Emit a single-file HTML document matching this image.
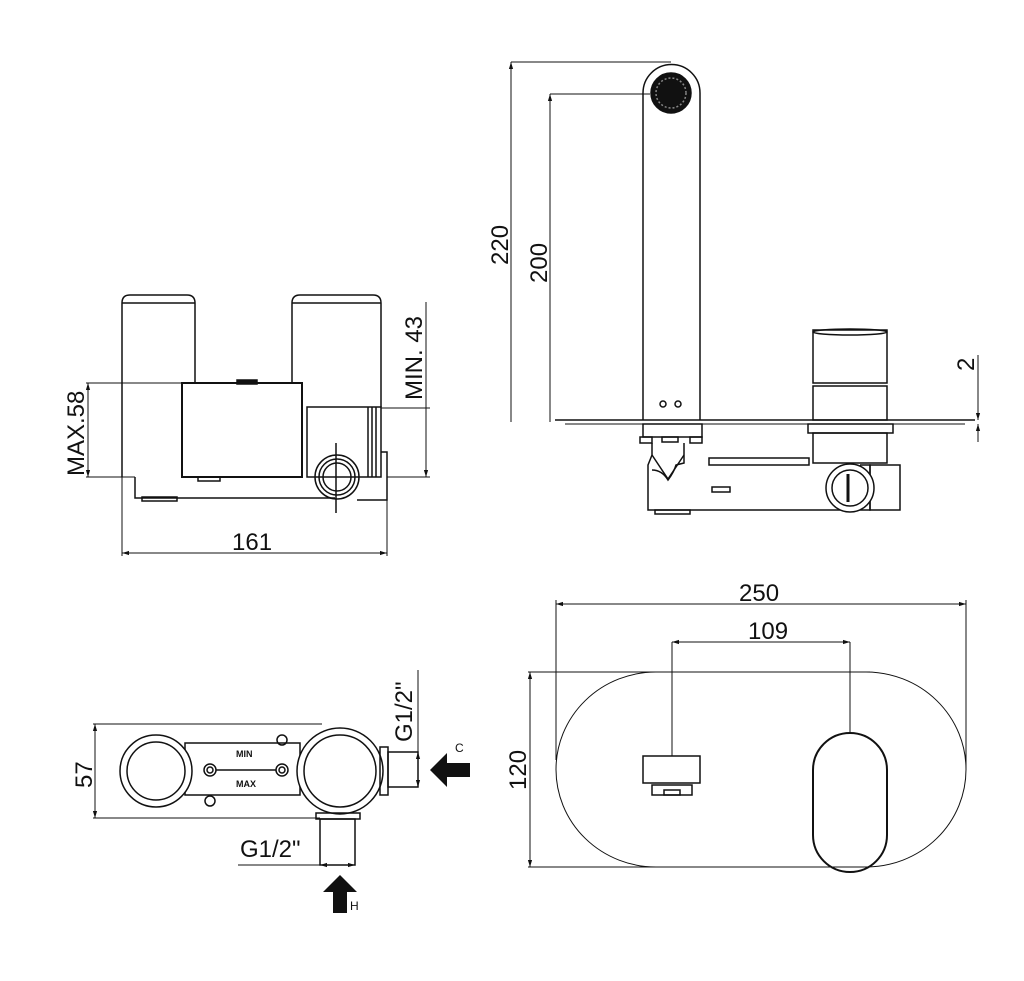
<!DOCTYPE html>
<html><head><style>body{margin:0;background:#fff}svg{display:block}text{font-family:"Liberation Sans",sans-serif;fill:#111}</style></head>
<body>
<svg width="1024" height="981" viewBox="0 0 1024 981" fill="none" stroke="#111" stroke-width="1.5">
<defs><marker id="a" viewBox="0 0 10 10" refX="10" refY="5" markerWidth="7" markerHeight="7" orient="auto-start-reverse"><path d="M0,2L10,5L0,8z" fill="#111" stroke="none"/></marker></defs>
<!-- TOP LEFT -->
<path d="M122,477V303q0-8 8-8h57q8,0 8,8V383"/>
<line x1="122" y1="303" x2="195" y2="303"/>
<path d="M292,383V303q0-8 8-8h73q8,0 8,8V407"/>
<line x1="292" y1="303" x2="381" y2="303"/>
<rect x="182" y="383" width="120" height="94" stroke-width="2"/>
<rect x="237" y="380" width="20" height="4" fill="#111"/>
<rect x="307" y="407" width="74" height="70"/>
<line x1="368" y1="407" x2="368" y2="477"/><line x1="372" y1="407" x2="372" y2="477"/><line x1="376" y1="407" x2="376" y2="477"/>
<path d="M381,452h6v48h-30"/>
<path d="M135,477v21h200"/>
<rect x="142" y="497" width="35" height="4"/>
<rect x="198" y="477" width="22" height="4"/>
<circle cx="337" cy="477" r="22"/><circle cx="337" cy="477" r="18"/><circle cx="337" cy="477" r="14"/>
<line x1="336" y1="443" x2="336" y2="513"/>
<line x1="86" y1="383" x2="182" y2="383" stroke-width="1"/><line x1="86" y1="477" x2="135" y2="477" stroke-width="1"/>
<line x1="88" y1="383" x2="88" y2="477" marker-start="url(#a)" marker-end="url(#a)" stroke-width="1"/>
<text font-size="24" transform="translate(84,476) rotate(-90)" stroke="none">MAX.58</text>
<line x1="381" y1="408" x2="430" y2="408" stroke-width="1"/><line x1="387" y1="477" x2="430" y2="477" stroke-width="1"/>
<line x1="426" y1="302" x2="426" y2="477" marker-end="url(#a)" stroke-width="1"/>
<text font-size="24" transform="translate(422,400) rotate(-90)" stroke="none">MIN. 43</text>
<line x1="122" y1="477" x2="122" y2="556" stroke-width="1"/><line x1="387" y1="500" x2="387" y2="556" stroke-width="1"/>
<line x1="122" y1="553" x2="387" y2="553" marker-start="url(#a)" marker-end="url(#a)" stroke-width="1"/>
<text x="232" y="550" font-size="24" stroke="none">161</text>
<!-- TOP RIGHT -->
<path d="M643,420V93a28.5,28.5 0 0 1 57,0V420"/>
<circle cx="671" cy="93" r="20" fill="#111"/><circle cx="671" cy="93" r="15" stroke="#888" stroke-dasharray="2 2"/>
<circle cx="663" cy="404" r="3"/><circle cx="678" cy="404" r="3"/>
<line x1="511" y1="62" x2="671" y2="62" stroke-width="1"/>
<line x1="511" y1="422" x2="511" y2="62" marker-end="url(#a)" stroke-width="1"/>
<line x1="550" y1="94" x2="650" y2="94" stroke-width="1"/>
<line x1="550" y1="422" x2="550" y2="94" marker-end="url(#a)" stroke-width="1"/>
<text font-size="24" transform="translate(508,265) rotate(-90)" stroke="none">220</text>
<text font-size="24" transform="translate(547,283) rotate(-90)" stroke="none">200</text>
<line x1="555" y1="420" x2="975" y2="420"/><line x1="565" y1="424" x2="965" y2="424" stroke-width="1"/>
<rect x="643" y="424" width="59" height="13"/>
<rect x="640" y="437" width="12" height="6"/><rect x="690" y="437" width="12" height="6"/><rect x="662" y="437" width="16" height="5"/>
<path d="M652,443v12l-4,10v45h222v-45h-10"/>
<path d="M652,470q10,0 16,10q6,-8 8,-15l8,-2v-20"/>
<path d="M652,455l16,24l16-24"/>
<rect x="709" y="458" width="100" height="7"/>
<rect x="870" y="465" width="30" height="45"/>
<rect x="813" y="330" width="74" height="53"/><ellipse cx="850" cy="332" rx="37" ry="3"/>
<rect x="813" y="386" width="74" height="34"/>
<rect x="808" y="424" width="85" height="9"/>
<rect x="813" y="433" width="74" height="30"/>
<rect x="712" y="487" width="18" height="5"/>
<rect x="655" y="510" width="35" height="4"/>
<circle cx="850" cy="488" r="24" fill="#fff"/><circle cx="850" cy="488" r="18"/>
<line x1="848" y1="474" x2="848" y2="502" stroke-width="3"/>
<line x1="978" y1="355" x2="978" y2="420" marker-end="url(#a)" stroke-width="1"/>
<line x1="978" y1="442" x2="978" y2="424" marker-end="url(#a)" stroke-width="1"/>
<text font-size="24" transform="translate(974,371) rotate(-90)" stroke="none">2</text>
<!-- BOTTOM LEFT -->
<line x1="93" y1="724" x2="322" y2="724" stroke-width="1"/><line x1="93" y1="818" x2="320" y2="818" stroke-width="1"/>
<line x1="95" y1="724" x2="95" y2="818" marker-start="url(#a)" marker-end="url(#a)" stroke-width="1"/>
<text font-size="24" transform="translate(92,788) rotate(-90)" stroke="none">57</text>
<rect x="185" y="743" width="115" height="52"/>
<circle cx="156" cy="771" r="36" fill="#fff"/><circle cx="156" cy="771" r="29"/>
<circle cx="340" cy="771" r="43" fill="#fff"/><circle cx="340" cy="771" r="36"/>
<circle cx="210" cy="770" r="6"/><circle cx="210" cy="770" r="3"/><circle cx="282" cy="770" r="6"/><circle cx="282" cy="770" r="3"/>
<line x1="216" y1="770" x2="276" y2="770"/>
<circle cx="282" cy="740" r="5"/><circle cx="210" cy="801" r="5"/>
<text x="236" y="757" font-size="9" font-weight="bold" stroke="none">MIN</text>
<text x="236" y="787" font-size="9" font-weight="bold" stroke="none">MAX</text>
<rect x="380" y="747" width="8" height="48"/><rect x="388" y="752" width="30" height="35"/>
<line x1="418" y1="670" x2="418" y2="787" stroke-width="1"/>
<line x1="418" y1="752" x2="418" y2="787" marker-start="url(#a)" marker-end="url(#a)" stroke-width="1"/>
<text font-size="24" transform="translate(412,742) rotate(-90)" stroke="none">G1/2"</text>
<rect x="316" y="813" width="44" height="6"/><rect x="320" y="819" width="35" height="46"/>
<line x1="238" y1="865" x2="320" y2="865" stroke-width="1"/>
<line x1="320" y1="865" x2="355" y2="865" marker-start="url(#a)" marker-end="url(#a)" stroke-width="1"/>
<text x="240" y="857" font-size="24" stroke="none">G1/2"</text>
<path d="M430,770l17-17v10h23v14h-23v10z" fill="#111" stroke="none"/>
<text x="455" y="752" font-size="12" stroke="none">C</text>
<path d="M340,875l-17,17h10v21h14v-21h10z" fill="#111" stroke="none"/>
<text x="350" y="910" font-size="12" stroke="none">H</text>
<!-- BOTTOM RIGHT -->
<line x1="556" y1="600" x2="556" y2="760" stroke-width="1"/><line x1="966" y1="600" x2="966" y2="770" stroke-width="1"/>
<line x1="556" y1="604" x2="966" y2="604" marker-start="url(#a)" marker-end="url(#a)" stroke-width="1"/>
<text x="739" y="601" font-size="24" stroke="none">250</text>
<line x1="672" y1="642" x2="850" y2="642" marker-start="url(#a)" marker-end="url(#a)" stroke-width="1"/>
<text x="748" y="639" font-size="24" stroke="none">109</text>
<rect x="556" y="672" width="410" height="195" rx="100" ry="97.5" stroke-width="1"/>
<line x1="528" y1="672" x2="870" y2="672" stroke-width="1"/><line x1="528" y1="867" x2="870" y2="867" stroke-width="1"/>
<line x1="530" y1="672" x2="530" y2="867" marker-start="url(#a)" marker-end="url(#a)" stroke-width="1"/>
<text font-size="24" transform="translate(526,790) rotate(-90)" stroke="none">120</text>
<line x1="672" y1="642" x2="672" y2="756" stroke-width="1"/><line x1="850" y1="642" x2="850" y2="733" stroke-width="1"/>
<rect x="643" y="756" width="57" height="27"/><rect x="652" y="785" width="40" height="10"/><rect x="664" y="790" width="16" height="5"/>
<rect x="813" y="733" width="74" height="139" rx="37" stroke-width="2"/>
</svg>
</body></html>
